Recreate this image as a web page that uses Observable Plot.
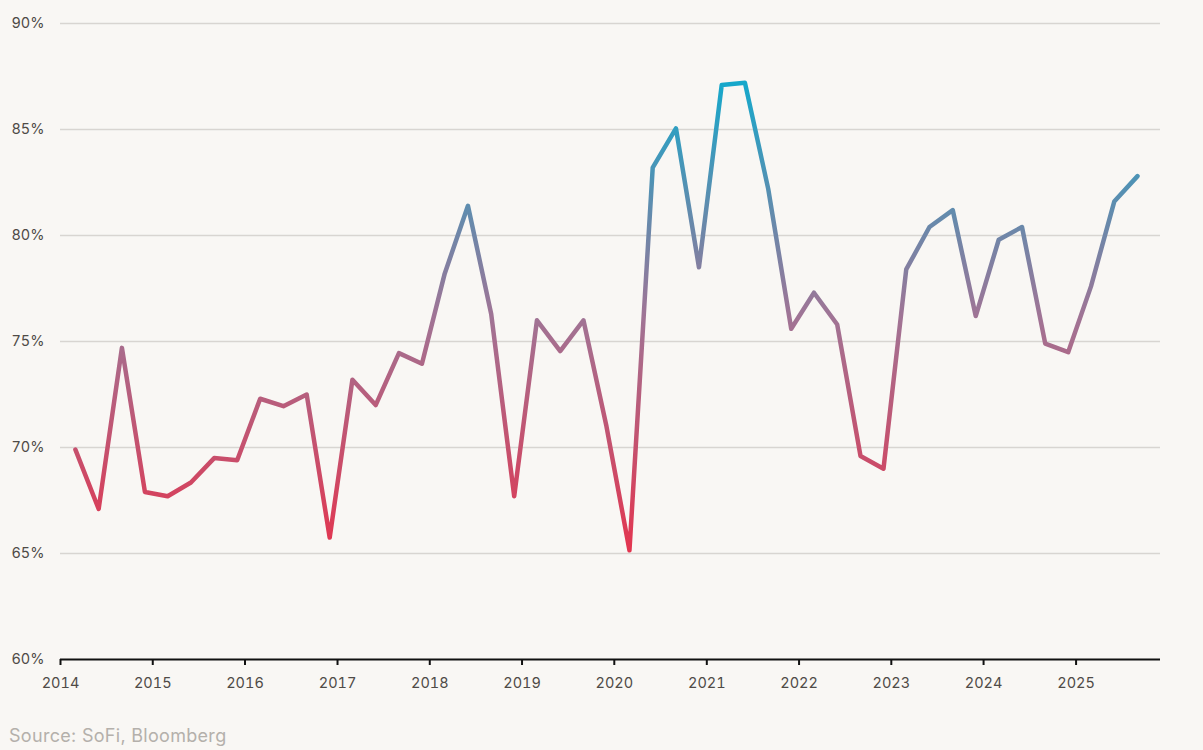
<!DOCTYPE html>
<html>
<head>
<meta charset="utf-8">
<script src="https://cdn.jsdelivr.net/npm/d3@7"></script>
<script src="https://cdn.jsdelivr.net/npm/@observablehq/plot@0.6"></script>
<style>
  html, body { margin: 0; padding: 0; background: #f9f7f4; }
  #wrap { position: relative; width: 1203px; height: 750px; background: #f9f7f4; font-family: Inter, "Open Sans", sans-serif; }
  #caption { position: absolute; left: 9px; top: 725px; font-size: 18px; color: #b4b0ab; font-family: Inter, "Open Sans", sans-serif; letter-spacing: 0.3px; }
</style>
</head>
<body>
<div id="wrap"><div id="chart"></div><div id="caption">Source: SoFi, Bloomberg</div></div>
<script>
// Quarter-end months, 2014 Q1 to 2025 Q3
const quarters = [
  "2014-03","2014-06","2014-09","2014-12",
  "2015-03","2015-06","2015-09","2015-12",
  "2016-03","2016-06","2016-09","2016-12",
  "2017-03","2017-06","2017-09","2017-12",
  "2018-03","2018-06","2018-09","2018-12",
  "2019-03","2019-06","2019-09","2019-12",
  "2020-03","2020-06","2020-09","2020-12",
  "2021-03","2021-06","2021-09","2021-12",
  "2022-03","2022-06","2022-09","2022-12",
  "2023-03","2023-06","2023-09","2023-12",
  "2024-03","2024-06","2024-09","2024-12",
  "2025-03","2025-06","2025-09"
];
const values = [
  69.9, 67.1, 74.7, 67.9,
  67.7, 68.35, 69.5, 69.4,
  72.3, 71.95, 72.5, 65.75,
  73.2, 72.0, 74.45, 73.95,
  78.2, 81.4, 76.3, 67.7,
  76.0, 74.55, 76.0, 71.0,
  65.15, 83.2, 85.05, 78.5,
  87.1, 87.2, 82.2, 75.6,
  77.3, 75.8, 69.6, 69.0,
  78.4, 80.4, 81.2, 76.2,
  79.8, 80.4, 74.9, 74.5,
  77.6, 81.6, 82.8
];
const yTicks = [60, 65, 70, 75, 80, 85, 90];
const gridTicks = [65, 70, 75, 80, 85, 90];
const yearTicks = d3.range(2014, 2026).map(y => new Date(y, 0, 1));

const parse = d3.timeParse("%Y-%m");
const data = quarters.map((q, i) => ({date: parse(q), value: values[i]}));

const chart = Plot.plot({
  width: 1203,
  height: 700,
  marginLeft: 60,
  marginRight: 43,
  marginTop: 23,
  marginBottom: 41,
  style: {background: "transparent", fontFamily: "Inter, 'Open Sans', sans-serif", fontSize: "14.5px", color: "#4f4b47"},
  x: {type: "time", domain: [new Date(2014, 0, 1), new Date(2025, 11, 1)]},
  y: {domain: [60, 90]},
  marks: [
    Plot.gridY(gridTicks, {stroke: "#d8d5d1", strokeOpacity: 1, strokeWidth: 1.3}),
    Plot.axisY(yTicks, {tickSize: 0, tickPadding: 16, tickFormat: d => d + "%", label: null, fill: "#4f4b47"}),
    Plot.ruleY([60], {stroke: "#111", strokeWidth: 2}),
    Plot.axisX(yearTicks, {tickSize: 6, tickPadding: 12, tickFormat: d3.timeFormat("%Y"), label: null, stroke: "#111", strokeWidth: 2, fill: "#4f4b47"}),
    Plot.line(data, {x: "date", y: "value", stroke: "url(#lineGrad)", strokeWidth: 4.5, strokeLinejoin: "round", strokeLinecap: "round"})
  ]
});

const ns = "http://www.w3.org/2000/svg";
const defs = document.createElementNS(ns, "defs");
const grad = document.createElementNS(ns, "linearGradient");
grad.setAttribute("id", "lineGrad");
grad.setAttribute("x1", "0"); grad.setAttribute("y1", "0");
grad.setAttribute("x2", "0"); grad.setAttribute("y2", "1");
[["0%", "#16a8cb"], ["50%", "#a07495"], ["100%", "#e3354f"]].forEach(([o, c]) => {
  const s = document.createElementNS(ns, "stop");
  s.setAttribute("offset", o);
  s.setAttribute("stop-color", c);
  grad.appendChild(s);
});
defs.appendChild(grad);
chart.insertBefore(defs, chart.firstChild);
document.getElementById("chart").appendChild(chart);
</script>
</body>
</html>
